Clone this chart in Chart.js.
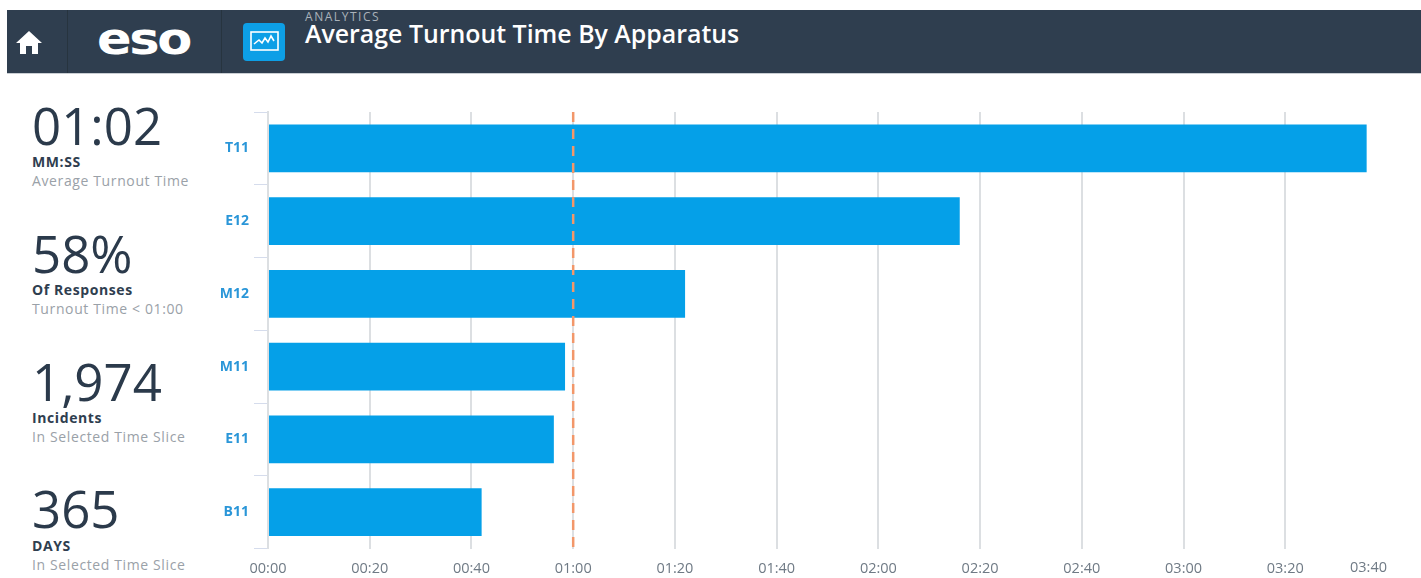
<!DOCTYPE html>
<html><head><meta charset="utf-8">
<style>
html,body{margin:0;padding:0;width:1421px;height:578px;background:#fff;overflow:hidden;font-family:"Open Sans",sans-serif}
#hdr{position:absolute;left:7px;top:10px;width:1414px;height:63px;background:#2f3e4f;border-bottom:1px solid #c9ced3;box-sizing:content-box}
.sep{position:absolute;top:10px;width:1px;height:63px;background:#27343f}
.t{position:absolute;white-space:nowrap;line-height:1}
.big{left:32px;font-size:51px;color:#2b3a4b;font-weight:400}
.lab{left:32px;font-size:14px;font-weight:700;color:#2f3e4f;letter-spacing:.6px}
.sub{left:32px;font-size:14px;color:#9aa1a8;letter-spacing:.62px}
#wrap{position:absolute;left:200px;top:90px;width:1221px;height:488px}
</style></head><body>
<div id="hdr"></div>
<div class="sep" style="left:67px"></div><div class="sep" style="left:221px"></div>
<svg style="position:absolute;left:16px;top:31px" width="26" height="24" viewBox="0 0 26 24"><path d="M13 0 L26 12 L22 12 L22 23 L16 23 L16 15 L10 15 L10 23 L4 23 L4 12 L0 12 Z" fill="#fff"/></svg>
<div class="t" style="left:97px;top:17px;font-family:'DejaVu Sans',sans-serif;font-size:44px;font-weight:700;color:#fff;letter-spacing:-2px;transform:scaleX(1.16);transform-origin:left">eso</div>
<div style="position:absolute;left:243px;top:23px;width:42px;height:38px;border-radius:4px;background:#0d9fe6"></div>
<svg style="position:absolute;left:250px;top:31px" width="29" height="22" viewBox="0 0 29 22"><rect x="1" y="1" width="27" height="18" fill="none" stroke="#fff" stroke-width="1.6"/><path d="M4 13 L9 9 L12 12 L15 7 L18 11 L21 5 L24 10" fill="none" stroke="#fff" stroke-width="1.6"/></svg>
<div class="t" style="left:305px;top:11px;font-size:12px;letter-spacing:1.55px;color:#aab2ba">ANALYTICS</div>
<div class="t" style="left:305px;top:21px;font-size:24.9px;font-weight:600;color:#fff">Average Turnout Time By Apparatus</div>

<div class="t big" style="top:100px">01:02</div>
<div class="t lab" style="top:155px">MM:SS</div>
<div class="t sub" style="top:174px">Average Turnout Time</div>
<div class="t big" style="top:228px">58%</div>
<div class="t lab" style="top:283px">Of Responses</div>
<div class="t sub" style="top:302px">Turnout Time &lt; 01:00</div>
<div class="t big" style="top:356px">1,974</div>
<div class="t lab" style="top:411px">Incidents</div>
<div class="t sub" style="top:430px">In Selected Time Slice</div>
<div class="t big" style="top:483px">365</div>
<div class="t lab" style="top:539px">DAYS</div>
<div class="t sub" style="top:558px">In Selected Time Slice</div>

<div id="wrap"><canvas id="c" width="1221" height="488"></canvas></div>
<script src="https://cdn.jsdelivr.net/npm/chart.js@4"></script>
<script>
const categories = ["T11","E12","M12","M11","E11","B11"];
const turnoutSeconds = [216,136,82,58.4,56.2,42];
const thresholdSeconds = 60;
const axisMaxSeconds = 220;
const tickStepSeconds = 20;
const tickFont = {family:"Open Sans",size:14.5};
const tickColor = "#6f7a85";
const fmt = s => String(Math.floor(s/60)).padStart(2,"0")+":"+String(s%60).padStart(2,"0");
const refLine = {
  id:"refLine",
  afterDatasetsDraw(chart){
    const {ctx,chartArea:a,scales:{x}} = chart;
    const px = x.getPixelForValue(thresholdSeconds);
    ctx.save();
    ctx.strokeStyle="#f2976a";ctx.lineWidth=2.5;ctx.setLineDash([10,7]);
    ctx.beginPath();ctx.moveTo(px,a.top);ctx.lineTo(px,a.bottom);ctx.stroke();
    ctx.restore();
  },
  afterDraw(chart){
    // the reference right-aligns only the final tick label to the plot edge
    const {ctx,chartArea:a,scales:{x}} = chart;
    ctx.save();
    ctx.font = tickFont.size+"px '"+tickFont.family+"'";
    ctx.fillStyle = tickColor;ctx.textAlign = "right";ctx.textBaseline = "middle";
    ctx.fillText(fmt(axisMaxSeconds),x.getPixelForValue(axisMaxSeconds),a.bottom+19.5);
    ctx.restore();
  }
};
new Chart(document.getElementById("c"),{
  type:"bar",
  data:{labels:categories,datasets:[{data:turnoutSeconds,backgroundColor:"#05a0e8",categoryPercentage:0.655,barPercentage:1}]},
  plugins:[refLine],
  options:{
    indexAxis:"y",responsive:false,animation:false,
    layout:{padding:{left:0,right:34,top:22,bottom:0}},
    plugins:{legend:{display:false},tooltip:{enabled:false}},
    scales:{
      x:{min:0,max:axisMaxSeconds,afterFit(s){s.height=29.5},
        ticks:{stepSize:tickStepSeconds,callback:v=>v===axisMaxSeconds?"":fmt(v),color:tickColor,font:tickFont,padding:12,maxRotation:0,autoSkip:false},
        grid:{color:c=>c.tick&&c.tick.value===axisMaxSeconds?"rgba(0,0,0,0)":"#dcdfe2",lineWidth:2,drawTicks:false},border:{display:false}},
      y:{afterFit(s){s.width=68},
        ticks:{color:"#2a96d8",font:{family:"Open Sans",size:14,weight:"700"},padding:5},
        grid:{drawOnChartArea:false,drawTicks:true,tickLength:14,tickColor:"#d5dcec",tickWidth:1},
        border:{display:true,color:"#dcdfe2",width:2}}
    }
  }
});
</script>
</body></html>
